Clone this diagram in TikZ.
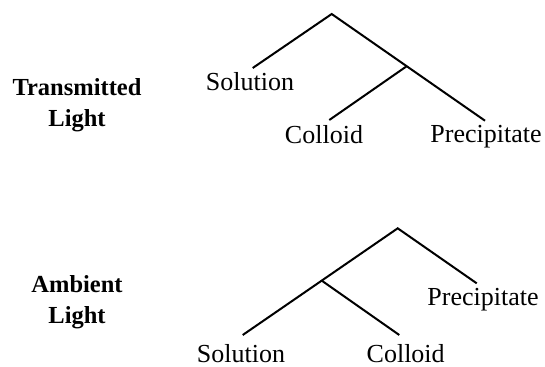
\documentclass[tikz,border=0pt]{standalone}
\usepackage{fontspec}
\setmainfont{Liberation Serif}
\usetikzlibrary{positioning}

\begin{document}
\begin{tikzpicture}[x=0.5pt, y=-0.5pt, line width=1pt,
  leaf/.style={anchor=base, inner sep=0pt, font=\fontsize{13}{15}\selectfont},
  side/.style={anchor=base, inner sep=0pt, align=center, font=\fontsize{12.25}{15.5}\selectfont\bfseries}]
  \useasboundingbox (0,0) rectangle (545,366);

  \node[side] (trans) at (77,126) {Transmitted\\Light};
  \node[side] (amb) at (77,323) {Ambient\\Light};

  \coordinate (top1) at (331.7,14);
  \coordinate (mid1) at (406.7,66.2);
  \coordinate (solend1) at (252.7,68);
  \coordinate (colend1) at (329.3,120);
  \coordinate (preend1) at (485,120.7);
  \draw (solend1) -- (top1) -- (preend1);
  \draw (mid1) -- (colend1);
  \node[leaf] (sol1) at (250,90.7) {Solution};
  \node[leaf] (col1) at (324,143) {Colloid};
  \node[leaf] (pre1) at (486,142) {Precipitate};

  \coordinate (top2) at (397.7,228.3);
  \coordinate (mid2) at (321.7,280.6);
  \coordinate (solend2) at (242.7,335);
  \coordinate (colend2) at (399.3,335);
  \coordinate (preend2) at (476.7,283.3);
  \draw (solend2) -- (top2) -- (preend2);
  \draw (mid2) -- (colend2);
  \node[leaf] (sol2) at (241,362.5) {Solution};
  \node[leaf] (col2) at (405.7,362.5) {Colloid};
  \node[leaf] (pre2) at (483,305) {Precipitate};
\end{tikzpicture}
\end{document}
